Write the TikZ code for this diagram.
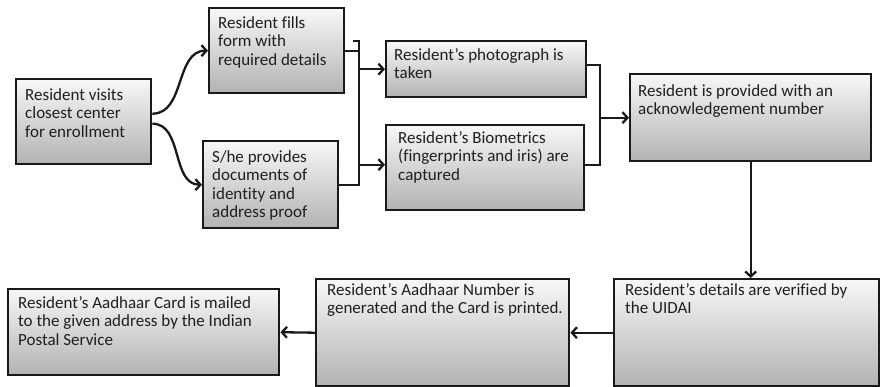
\documentclass[tikz,border=0pt]{standalone}
\usepackage{fontspec}
\setmainfont{Carlito}[Ligatures=NoCommon]
\usetikzlibrary{arrows.meta,calc}
\newcommand\boxtext[5]{\parbox[c][#2][t]{#1}{\vspace*{#3}\raggedright\leftskip=#4\relax\noindent #5}}
\begin{document}
\begin{tikzpicture}[x=1pt,y=-1pt,
  box/.style={draw=black!90, line width=2.4pt, top color=black!3, bottom color=black!30,
    inner sep=0pt, anchor=north west, font=\fontsize{17}{18.5}\selectfont, text=black!88},
  conn/.style={line width=2.3pt, draw=black!90},
  arr/.style={conn, -{Straight Barb[length=5pt,width=11pt]}}]
\useasboundingbox (0,0) rectangle (880,387);
\node[box] (A) at (15,78) {\boxtext{135pt}{85pt}{9pt}{9pt}{Resident visits\\closest center\\for enrollment}};
\node[box] (B) at (208,7) {\boxtext{135pt}{85pt}{8pt}{9pt}{Resident fills\\form with\\required details}};
\node[box] (C) at (202,140) {\boxtext{135pt}{87pt}{9pt}{9pt}{S/he provides\\documents of\\identity and\\address proof}};
\node[box] (D) at (385,40) {\boxtext{200pt}{56pt}{7pt}{8pt}{Resident’s photograph is\\taken}};
\node[box] (E) at (385,124) {\boxtext{198pt}{85pt}{6pt}{12pt}{Resident’s Biometrics\\(fingerprints and iris) are\\captured}};
\node[box] (F) at (629,73) {\boxtext{241pt}{87pt}{10pt}{8pt}{Resident is provided with an\\acknowledgement number}};
\node[box] (G) at (613,278) {\boxtext{265pt}{107pt}{4pt}{11pt}{Resident’s details are verified by\\the UIDAI}};
\node[box] (H) at (315,278) {\boxtext{253pt}{107pt}{4pt}{11pt}{Resident’s Aadhaar Number is\\generated and the Card is printed.}};
\node[box] (I) at (7,288) {\boxtext{271pt}{86pt}{7pt}{10pt}{Resident’s Aadhaar Card is mailed\\to the given address by the Indian\\Postal Service}};
% curves from A
\draw[arr] ($(A.east)+(0,-8)$) to[out=0,in=180] (B.west);
\draw[arr] ($(A.east)+(0,2)$) to[out=0,in=180] (C.west);
% first bus
\coordinate (bustop) at (359,41);
\coordinate (bustick) at (353,41);
\draw[conn] (bustick) -- (bustop) -- (bustop |- C.east) -- (C.east);
\draw[conn] (B.east) -- (bustop |- B.east);
\draw[arr] (bustop |- D.west) -- (D.west);
\draw[arr] ($(bustop |- E.west)+(0,-3)$) -- ($(E.west)+(0,-3)$);
% second bus
\coordinate (bus2) at (600,0);
\draw[conn] ($(D.east)+(0,-4)$) -- ($(bus2 |- D.east)+(0,-4)$) -- ($(bus2 |- E.east)+(0,-3)$) -- ($(E.east)+(0,-3)$);
\draw[arr] (bus2 |- F.west) -- (F.west);
% down and left
\draw[arr] (F.south) -- (F.south |- G.north);
\draw[arr] (G.west) -- (H.east);
\draw[arr] (H.west) -- (I.east);
\end{tikzpicture}
\end{document}
